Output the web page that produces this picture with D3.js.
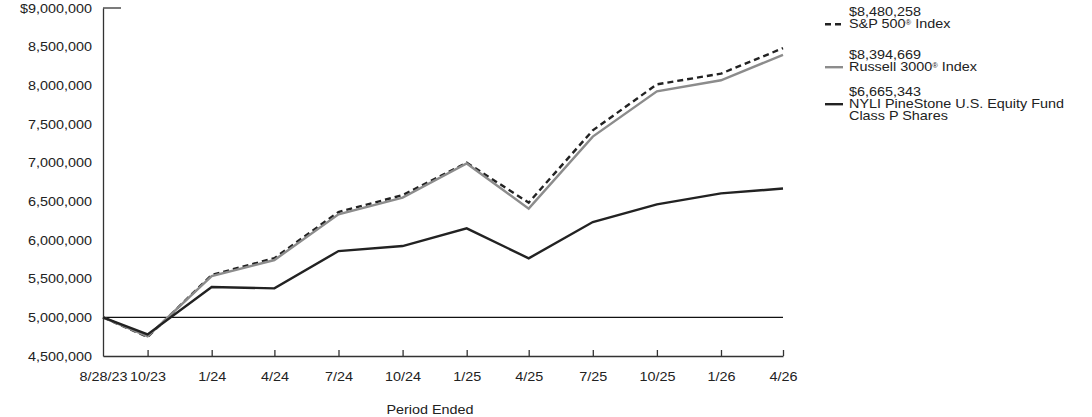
<!DOCTYPE html>
<html>
<head>
<meta charset="utf-8">
<script src="https://cdn.jsdelivr.net/npm/d3@7"></script>
<style>
  body { margin: 0; background: #fff; }
  svg text { font-family: "Liberation Sans", Arial, sans-serif; fill: #222; }
</style>
</head>
<body>
<div id="app"></div>
<script>
const periods = ['2023-08-28', '2023-10-31', '2024-01-31', '2024-04-30', '2024-07-31', '2024-10-31',
  '2025-01-31', '2025-04-30', '2025-07-31', '2025-10-31', '2026-01-31', '2026-04-30'];
const sp500 = [5000000, 4745000, 5548000, 5765000, 6362000, 6580000, 7000000, 6483000, 7418000, 8013000, 8151000, 8480258];
const russell = [5000000, 4755000, 5534000, 5741000, 6332000, 6548000, 6990000, 6406000, 7337000, 7923000, 8065000, 8394669];
const fund = [5000000, 4780000, 5392000, 5375000, 5857000, 5922000, 6151000, 5763000, 6232000, 6461000, 6603000, 6665343];
const yTicks = [4500000, 5000000, 5500000, 6000000, 6500000, 7000000, 7500000, 8000000, 8500000, 9000000];
const legendItems = [
  { value: '$8,480,258', lines: ['S&P 500', ' Index'], sup: true, kind: 'dash' },
  { value: '$8,394,669', lines: ['Russell 3000', ' Index'], sup: true, kind: 'grey' },
  { value: '$6,665,343', lines: ['NYLI PineStone U.S. Equity Fund', 'Class P Shares'], sup: false, kind: 'solid' },
];

const width = 1092;
const height = 417;
const fs = 12.2; // font size
const sx = 1.18; // text is drawn a bit wide in the original

const parse = d3.timeParse('%Y-%m-%d');
const dates = periods.map(parse);

const x = d3.scaleTime().domain([dates[0], dates[dates.length - 1]]).range([103, 783]);
const y = d3.scaleLinear().domain([4500000, 9000000]).range([356, 8]);

const styles = {
  dash: { stroke: '#222', width: 2.4, dash: '6,4' },
  grey: { stroke: '#8c8c8c', width: 2.4, dash: null },
  solid: { stroke: '#222', width: 2.4, dash: null },
};

const svg = d3.select('#app')
  .append('svg')
  .attr('width', width)
  .attr('height', height);

// y axis
const yAxis = svg.append('g')
  .attr('transform', 'translate(103,0)')
  .call(d3.axisLeft(y)
    .tickValues(yTicks)
    .tickSize(0)
    .tickFormat((d) => (d === 9000000 ? '$' : '') + d3.format(',')(d)));
yAxis.select('.domain').attr('stroke', '#333').attr('stroke-width', 1.3);
yAxis.selectAll('text')
  .attr('x', -11 / sx)
  .attr('dy', '0.33em')
  .attr('transform', `scale(${sx},1)`)
  .style('font-size', fs + 'px')
  .style('font-family', '"Liberation Sans", Arial, sans-serif')
  .attr('fill', '#222');

// little top tick
svg.append('line')
  .attr('x1', 103).attr('x2', 121)
  .attr('y1', y(9000000)).attr('y2', y(9000000))
  .attr('stroke', '#333').attr('stroke-width', 1.3);

// x axis
const fmtFirst = d3.timeFormat('%-m/%-d/%y');
const fmtOther = d3.timeFormat('%-m/%y');
const xAxis = svg.append('g')
  .attr('transform', 'translate(0,356)')
  .call(d3.axisBottom(x)
    .tickValues(dates)
    .tickSizeInner(-6)
    .tickSizeOuter(0)
    .tickPadding(0)
    .tickFormat((d, i) => (i === 0 ? fmtFirst(d) : fmtOther(d))));
xAxis.select('.domain').attr('stroke', '#333').attr('stroke-width', 1.3);
xAxis.selectAll('.tick line').attr('stroke', '#333').attr('stroke-width', 1.3);
xAxis.selectAll('.tick').filter((d, i) => i === 0).select('line').remove();
xAxis.selectAll('text')
  .attr('y', 25.5)
  .attr('dy', 0)
  .attr('transform', `scale(${sx},1)`)
  .style('font-size', fs + 'px')
  .style('font-family', '"Liberation Sans", Arial, sans-serif')
  .attr('fill', '#222');

svg.append('text')
  .attr('transform', `translate(430,413.5) scale(${sx},1)`)
  .attr('text-anchor', 'middle')
  .style('font-size', fs + 'px')
  .text('Period Ended');

// 5,000,000 reference line
svg.append('line')
  .attr('x1', 103).attr('x2', 783)
  .attr('y1', y(5000000)).attr('y2', y(5000000))
  .attr('stroke', '#111').attr('stroke-width', 1.3);

const line = d3.line()
  .x((d, i) => x(dates[i]))
  .y((d) => y(d));

const series = [
  { data: sp500, kind: 'dash' },
  { data: russell, kind: 'grey' },
  { data: fund, kind: 'solid' },
];

series.forEach((s) => {
  const st = styles[s.kind];
  svg.append('path')
    .datum(s.data)
    .attr('d', line)
    .attr('fill', 'none')
    .attr('stroke', st.stroke)
    .attr('stroke-width', st.width)
    .attr('stroke-linejoin', 'miter')
    .attr('stroke-dasharray', st.dash);
});

// legend
const legendTop = [15.5, 58.5, 95.5];
legendItems.forEach((item, i) => {
  const st = styles[item.kind];
  const base = legendTop[i];
  const g = svg.append('g');

  g.append('line')
    .attr('x1', 825).attr('x2', 843)
    .attr('y1', base + 8.7).attr('y2', base + 8.7)
    .attr('stroke', st.stroke)
    .attr('stroke-width', st.width)
    .attr('stroke-dasharray', st.dash);

  g.append('text')
    .attr('transform', `translate(849,${base}) scale(${sx},1)`)
    .style('font-size', fs + 'px')
    .text(item.value);

  if (item.sup) {
    const t = g.append('text')
      .attr('transform', `translate(849,${base + 12.5}) scale(${sx},1)`)
      .style('font-size', fs + 'px');
    t.append('tspan').text(item.lines[0]);
    t.append('tspan').attr('dy', -3.5).style('font-size', '6.5px').text('®');
    t.append('tspan').attr('dy', 3.5).text(item.lines[1]);
  } else {
    item.lines.forEach((l, j) => {
      g.append('text')
        .attr('transform', `translate(849,${base + 12.5 + j * 12.3}) scale(${sx},1)`)
        .style('font-size', fs + 'px')
        .text(l);
    });
  }
});
</script>
</body>
</html>
